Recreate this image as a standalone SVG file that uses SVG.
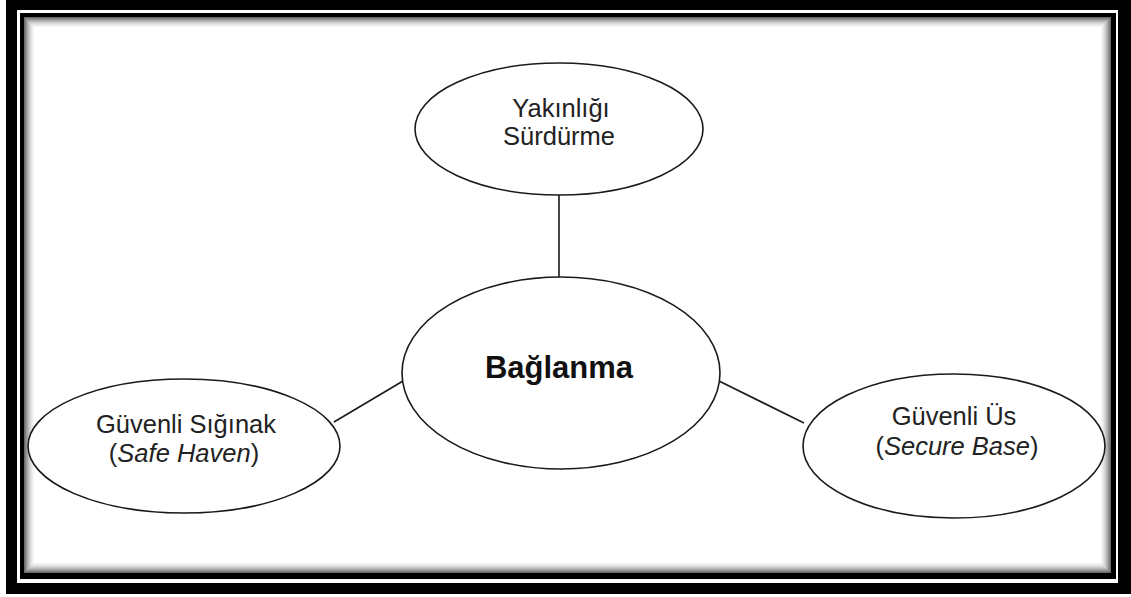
<svg xmlns="http://www.w3.org/2000/svg" width="1131" height="597" viewBox="0 0 1131 597">
<style>
.node ellipse{fill:#fff;stroke:#1a1a1a;stroke-width:1.6}
.t{font-family:"Liberation Sans",Arial,sans-serif;font-size:25.5px;fill:#222;text-anchor:middle}
.b{font-family:"Liberation Sans",Arial,sans-serif;font-size:31px;font-weight:bold;fill:#111;text-anchor:middle}
.conn line{stroke:#1a1a1a;stroke-width:1.6}
</style>
<rect width="1131" height="597" fill="#fff"/>
<g id="frame">
<rect x="6" y="-2" width="1130" height="596" fill="#000"/>
<rect x="17" y="10" width="1101" height="573" fill="#fff"/>
<rect x="20" y="13" width="1096" height="566" fill="#000"/>
<rect x="24" y="17" width="1087" height="556" fill="#6a6a6a"/>
<rect x="25" y="18" width="1085" height="554" fill="#808080"/>
<rect x="26" y="19" width="1083" height="552" fill="#959595"/>
<rect x="27" y="20" width="1081" height="550" fill="#a8a8a8"/>
<rect x="28" y="21" width="1079" height="548" fill="#bababa"/>
<rect x="29" y="22" width="1077" height="546" fill="#cacaca"/>
<rect x="30" y="23" width="1075" height="544" fill="#d8d8d8"/>
<rect x="31" y="24" width="1073" height="542" fill="#e4e4e4"/>
<rect x="32" y="25" width="1071" height="540" fill="#eeeeee"/>
<rect x="33" y="26" width="1069" height="538" fill="#f6f6f6"/>
<rect x="34" y="27" width="1067" height="536" fill="#fff"/>
</g>
<g class="conn" id="connectors">
<line x1="559" y1="195" x2="559" y2="277"/>
<line x1="334" y1="422" x2="403" y2="381"/>
<line x1="719" y1="381" x2="804" y2="423"/>
</g>
<g class="node" id="n-yakinlik">
<ellipse cx="559" cy="129" rx="144" ry="66"/>
<text class="t" x="561" y="117">Yakınlığı</text>
<text class="t" x="559" y="145">Sürdürme</text>
</g>
<g class="node" id="n-baglanma">
<ellipse cx="561" cy="373" rx="159" ry="96"/>
<text class="b" x="559" y="378">Bağlanma</text>
</g>
<g class="node" id="n-siginak">
<ellipse cx="184" cy="446" rx="156" ry="67"/>
<text class="t" x="186" y="433">Güvenli Sığınak</text>
<text class="t" x="184" y="462">(<tspan font-style="italic">Safe Haven</tspan>)</text>
</g>
<g class="node" id="n-us">
<ellipse cx="954" cy="446" rx="151" ry="72"/>
<text class="t" x="954" y="425">Güvenli Üs</text>
<text class="t" x="957" y="455">(<tspan font-style="italic">Secure Base</tspan>)</text>
</g>
</svg>
